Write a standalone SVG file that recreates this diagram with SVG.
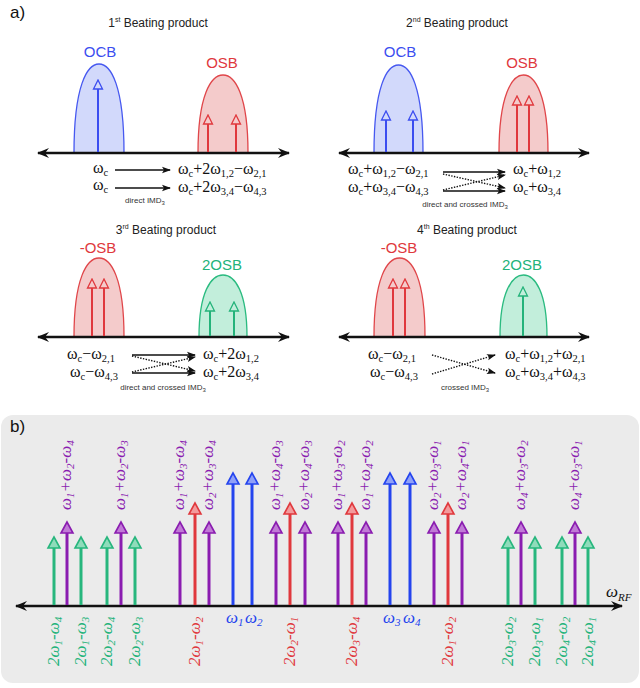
<svg xmlns="http://www.w3.org/2000/svg" width="640" height="688" viewBox="0 0 640 688">
<style>
.ttl{font-family:"Liberation Sans",Arial,sans-serif;font-size:12px;fill:#222}
.sup{font-size:7px}
.big{font-family:"Liberation Sans",Arial,sans-serif;font-size:15px;text-anchor:middle}
.pl{font-family:"Liberation Sans",Arial,sans-serif;font-size:17px;fill:#111}
.fm{font-family:"Liberation Serif","Times New Roman",serif;font-size:16px;fill:#111}
.fs{font-size:10.5px}
.sm{font-family:"Liberation Sans",Arial,sans-serif;font-size:8px;fill:#333;text-anchor:middle}
.lab{font-family:"Liberation Serif","Times New Roman",serif;font-style:italic;font-size:17px}
.ls{font-size:11px}
.ax{stroke:#111;stroke-width:2.5;fill:none}
.imd{stroke:#111;stroke-width:1.4;fill:none}
.dot{stroke:#111;stroke-width:1.4;stroke-dasharray:1.4 1.4;fill:none}
.bl{stroke:#3b4df0;stroke-width:2}
.rd{stroke:#e0383d;stroke-width:2}
.gr{stroke:#23b37a;stroke-width:2}
.Bb{stroke:#2444ee;stroke-width:3}
.Br{stroke:#e0383d;stroke-width:3}
.Bg{stroke:#27b67d;stroke-width:3}
.Bp{stroke:#8a1cb0;stroke-width:3}
.lobeB{fill:#d2d9fb;stroke:#4658f0;stroke-width:1.3}
.lobeR{fill:#f4cbcb;stroke:#e0464a;stroke-width:1.3}
.lobeG{fill:#c2eedb;stroke:#2bbb80;stroke-width:1.3}
.cB{fill:#3b4df0}.cR{fill:#e0383d}.cG{fill:#23b37a}.cP{fill:#8a1cb0}
</style>
<defs>
<marker id="mB" markerUnits="userSpaceOnUse" viewBox="-6 -6 12 12" markerWidth="12" markerHeight="12" refX="0" refY="0" orient="auto"><path d="M5,0 L-4,-4.5 L-4,4.5 Z" fill="#d2d9fb" stroke="#3b4df0" stroke-width="1.3"/></marker>
<marker id="mR" markerUnits="userSpaceOnUse" viewBox="-6 -6 12 12" markerWidth="12" markerHeight="12" refX="0" refY="0" orient="auto"><path d="M5,0 L-4,-4.5 L-4,4.5 Z" fill="#f4cbcb" stroke="#e0383d" stroke-width="1.3"/></marker>
<marker id="mG" markerUnits="userSpaceOnUse" viewBox="-6 -6 12 12" markerWidth="12" markerHeight="12" refX="0" refY="0" orient="auto"><path d="M5,0 L-4,-4.5 L-4,4.5 Z" fill="#c2eedb" stroke="#23b37a" stroke-width="1.3"/></marker>
<marker id="bB" markerUnits="userSpaceOnUse" viewBox="-7 -8 16 16" markerWidth="16" markerHeight="16" refX="0" refY="0" orient="auto"><path d="M7,0 L-4,-6 L-4,6 Z" fill="#8fa0f8" stroke="#2444ee" stroke-width="1.6"/></marker>
<marker id="bR" markerUnits="userSpaceOnUse" viewBox="-7 -8 16 16" markerWidth="16" markerHeight="16" refX="0" refY="0" orient="auto"><path d="M7,0 L-4,-6 L-4,6 Z" fill="#f39a9c" stroke="#e0383d" stroke-width="1.6"/></marker>
<marker id="bG" markerUnits="userSpaceOnUse" viewBox="-7 -8 16 16" markerWidth="16" markerHeight="16" refX="0" refY="0" orient="auto"><path d="M7,0 L-4,-6 L-4,6 Z" fill="#8fdcbb" stroke="#27b67d" stroke-width="1.6"/></marker>
<marker id="bP" markerUnits="userSpaceOnUse" viewBox="-7 -8 16 16" markerWidth="16" markerHeight="16" refX="0" refY="0" orient="auto"><path d="M7,0 L-4,-6 L-4,6 Z" fill="#c07ad6" stroke="#8a1cb0" stroke-width="1.6"/></marker>
<marker id="axe" markerUnits="userSpaceOnUse" viewBox="-12 -6 13 12" markerWidth="13" markerHeight="12" refX="0" refY="0" orient="auto-start-reverse"><path d="M1,0 L-11,-5 L-7,0 L-11,5 Z" fill="#111"/></marker>
<marker id="ia" markerUnits="userSpaceOnUse" viewBox="-9 -4 10 8" markerWidth="10" markerHeight="8" refX="0" refY="0" orient="auto"><path d="M1,0 L-8,-3.2 L-6,0 L-8,3.2 Z" fill="#111"/></marker>
</defs>

<rect width="640" height="688" fill="#fff"/>

<text x="10" y="18" class="pl">a)</text>

<g id="p1">
<text x="158" y="27" class="ttl" text-anchor="middle">1<tspan class="sup" dy="-5">st</tspan><tspan dy="5"> Beating product</tspan></text>
<text x="100" y="57" class="big cB">OCB</text>
<text x="222" y="68" class="big cR">OSB</text>
<path class="lobeB" d="M74,153 C74,86 87,64 99,64 C111,64 124,86 124,153 Z"/>
<path class="lobeR" d="M198,153 C198,95 211,75 223,75 C235,75 248,95 248,153 Z"/>
<line class="ax" x1="38" y1="153" x2="289" y2="153" marker-start="url(#axe)" marker-end="url(#axe)"/>
<line class="bl" x1="98" y1="152" x2="98" y2="85" marker-end="url(#mB)"/>
<line class="rd" x1="208" y1="152" x2="208" y2="120" marker-end="url(#mR)"/>
<line class="rd" x1="236" y1="152" x2="236" y2="120" marker-end="url(#mR)"/>
<text x="93" y="173" class="fm">ω<tspan class="fs" dy="2.5">c</tspan></text>
<text x="93" y="190" class="fm">ω<tspan class="fs" dy="2.5">c</tspan></text>
<text x="178" y="174" class="fm">ω<tspan class="fs" dy="2.5">c</tspan><tspan dy="-2.5">+2ω</tspan><tspan class="fs" dy="2.5">1,2</tspan><tspan dy="-2.5">−ω</tspan><tspan class="fs" dy="2.5">2,1</tspan></text>
<text x="178" y="192" class="fm">ω<tspan class="fs" dy="2.5">c</tspan><tspan dy="-2.5">+2ω</tspan><tspan class="fs" dy="2.5">3,4</tspan><tspan dy="-2.5">−ω</tspan><tspan class="fs" dy="2.5">4,3</tspan></text>
<text x="145" y="203" class="sm">direct IMD<tspan font-size="6" dy="2">3</tspan></text>
</g>

<g id="p2">
<text x="457" y="27" class="ttl" text-anchor="middle">2<tspan class="sup" dy="-5">nd</tspan><tspan dy="5"> Beating product</tspan></text>
<text x="400" y="57" class="big cB">OCB</text>
<text x="522" y="68" class="big cR">OSB</text>
<path class="lobeB" d="M374,153 C374,86 387,65 398.5,65 C410,65 423,86 423,153 Z"/>
<path class="lobeR" d="M499,153 C499,95 512,75 523.5,75 C535,75 548,95 548,153 Z"/>
<line class="ax" x1="339" y1="153" x2="589" y2="153" marker-start="url(#axe)" marker-end="url(#axe)"/>
<line class="bl" x1="386" y1="152" x2="386" y2="116" marker-end="url(#mB)"/>
<line class="bl" x1="413" y1="152" x2="413" y2="116" marker-end="url(#mB)"/>
<line class="rd" x1="517" y1="152" x2="517" y2="101" marker-end="url(#mR)"/>
<line class="rd" x1="529" y1="152" x2="529" y2="101" marker-end="url(#mR)"/>
<text x="348" y="174" class="fm">ω<tspan class="fs" dy="2.5">c</tspan><tspan dy="-2.5">+ω</tspan><tspan class="fs" dy="2.5">1,2</tspan><tspan dy="-2.5">−ω</tspan><tspan class="fs" dy="2.5">2,1</tspan></text>
<text x="348" y="192" class="fm">ω<tspan class="fs" dy="2.5">c</tspan><tspan dy="-2.5">+ω</tspan><tspan class="fs" dy="2.5">3,4</tspan><tspan dy="-2.5">−ω</tspan><tspan class="fs" dy="2.5">4,3</tspan></text>
<text x="513" y="174" class="fm">ω<tspan class="fs" dy="2.5">c</tspan><tspan dy="-2.5">+ω</tspan><tspan class="fs" dy="2.5">1,2</tspan></text>
<text x="513" y="192" class="fm">ω<tspan class="fs" dy="2.5">c</tspan><tspan dy="-2.5">+ω</tspan><tspan class="fs" dy="2.5">3,4</tspan></text>
<text x="465" y="207" class="sm">direct and crossed IMD<tspan font-size="6" dy="2">3</tspan></text>
</g>

<g id="p3">
<text x="166" y="234" class="ttl" text-anchor="middle">3<tspan class="sup" dy="-5">rd</tspan><tspan dy="5"> Beating product</tspan></text>
<text x="98" y="253" class="big cR">-OSB</text>
<text x="222" y="270" class="big cG">2OSB</text>
<path class="lobeR" d="M74,337 C74,278 87,258 99,258 C111,258 124,278 124,337 Z"/>
<path class="lobeG" d="M199,337 C199,292 211,275 223,275 C235,275 247,292 247,337 Z"/>
<line class="ax" x1="38" y1="337" x2="289" y2="337" marker-start="url(#axe)" marker-end="url(#axe)"/>
<line class="rd" x1="92" y1="336" x2="92" y2="284" marker-end="url(#mR)"/>
<line class="rd" x1="104" y1="336" x2="104" y2="284" marker-end="url(#mR)"/>
<line class="gr" x1="210" y1="336" x2="210" y2="307" marker-end="url(#mG)"/>
<line class="gr" x1="234" y1="336" x2="234" y2="307" marker-end="url(#mG)"/>
<text x="67" y="359" class="fm">ω<tspan class="fs" dy="2.5">c</tspan><tspan dy="-2.5">−ω</tspan><tspan class="fs" dy="2.5">2,1</tspan></text>
<text x="70" y="377" class="fm">ω<tspan class="fs" dy="2.5">c</tspan><tspan dy="-2.5">−ω</tspan><tspan class="fs" dy="2.5">4,3</tspan></text>
<text x="203" y="359" class="fm">ω<tspan class="fs" dy="2.5">c</tspan><tspan dy="-2.5">+2ω</tspan><tspan class="fs" dy="2.5">1,2</tspan></text>
<text x="203" y="377" class="fm">ω<tspan class="fs" dy="2.5">c</tspan><tspan dy="-2.5">+2ω</tspan><tspan class="fs" dy="2.5">3,4</tspan></text>
<text x="163" y="390" class="sm">direct and crossed IMD<tspan font-size="6" dy="2">3</tspan></text>
</g>

<g id="p4">
<text x="467" y="234" class="ttl" text-anchor="middle">4<tspan class="sup" dy="-5">th</tspan><tspan dy="5"> Beating product</tspan></text>
<text x="399" y="253" class="big cR">-OSB</text>
<text x="522" y="270" class="big cG">2OSB</text>
<path class="lobeR" d="M374,337 C374,278 387,258 399.5,258 C412,258 425,278 425,337 Z"/>
<path class="lobeG" d="M500,337 C500,292 512,275 523.5,275 C535,275 547,292 547,337 Z"/>
<line class="ax" x1="339" y1="337" x2="589" y2="337" marker-start="url(#axe)" marker-end="url(#axe)"/>
<line class="rd" x1="393" y1="336" x2="393" y2="284" marker-end="url(#mR)"/>
<line class="rd" x1="405" y1="336" x2="405" y2="284" marker-end="url(#mR)"/>
<line class="gr" x1="523" y1="336" x2="523" y2="292" marker-end="url(#mG)"/>
<text x="368" y="359" class="fm">ω<tspan class="fs" dy="2.5">c</tspan><tspan dy="-2.5">−ω</tspan><tspan class="fs" dy="2.5">2,1</tspan></text>
<text x="370" y="377" class="fm">ω<tspan class="fs" dy="2.5">c</tspan><tspan dy="-2.5">−ω</tspan><tspan class="fs" dy="2.5">4,3</tspan></text>
<text x="505" y="359" class="fm">ω<tspan class="fs" dy="2.5">c</tspan><tspan dy="-2.5">+ω</tspan><tspan class="fs" dy="2.5">1,2</tspan><tspan dy="-2.5">+ω</tspan><tspan class="fs" dy="2.5">2,1</tspan></text>
<text x="505" y="377" class="fm">ω<tspan class="fs" dy="2.5">c</tspan><tspan dy="-2.5">+ω</tspan><tspan class="fs" dy="2.5">3,4</tspan><tspan dy="-2.5">+ω</tspan><tspan class="fs" dy="2.5">4,3</tspan></text>
<text x="465" y="390" class="sm">crossed IMD<tspan font-size="6" dy="2">3</tspan></text>
</g>

<g id="connectors">
<line class="imd" x1="115" y1="170" x2="170" y2="170" marker-end="url(#ia)"/>
<line class="imd" x1="115" y1="188" x2="170" y2="188" marker-end="url(#ia)"/>
<line class="imd" x1="443" y1="172" x2="505" y2="172" marker-end="url(#ia)"/>
<line class="imd" x1="443" y1="191" x2="505" y2="191" marker-end="url(#ia)"/>
<line class="dot" x1="443" y1="174" x2="505" y2="188" marker-end="url(#ia)"/>
<line class="dot" x1="443" y1="190" x2="505" y2="175" marker-end="url(#ia)"/>
<line class="imd" x1="132" y1="355" x2="195" y2="355" marker-end="url(#ia)"/>
<line class="imd" x1="132" y1="373" x2="195" y2="373" marker-end="url(#ia)"/>
<line class="dot" x1="132" y1="356" x2="195" y2="371" marker-end="url(#ia)"/>
<line class="dot" x1="132" y1="372" x2="195" y2="357" marker-end="url(#ia)"/>
<line class="dot" x1="432" y1="355" x2="495" y2="373" marker-end="url(#ia)"/>
<line class="dot" x1="432" y1="374" x2="495" y2="355" marker-end="url(#ia)"/>
</g>

<g id="panelb">
<rect x="1" y="415" width="638" height="268" rx="12" fill="#ebebeb"/>
<text x="10" y="432" class="pl">b)</text>
<line class="ax" x1="16" y1="606" x2="622" y2="606" marker-start="url(#axe)" marker-end="url(#axe)"/>
<text x="606" y="597" class="lab" fill="#111">ω<tspan class="ls" dy="4">RF</tspan></text>
</g>

<g id="arrows-b">
<g class="Bg">
<line x1="54" y1="605" x2="54" y2="544" marker-end="url(#bG)"/>
<line x1="81" y1="605" x2="81" y2="544" marker-end="url(#bG)"/>
<line x1="107" y1="605" x2="107" y2="544" marker-end="url(#bG)"/>
<line x1="135" y1="605" x2="135" y2="544" marker-end="url(#bG)"/>
<line x1="508" y1="605" x2="508" y2="544" marker-end="url(#bG)"/>
<line x1="535" y1="605" x2="535" y2="544" marker-end="url(#bG)"/>
<line x1="562" y1="605" x2="562" y2="544" marker-end="url(#bG)"/>
<line x1="588" y1="605" x2="588" y2="544" marker-end="url(#bG)"/>
</g>
<g class="Bp">
<line x1="67" y1="605" x2="67" y2="529" marker-end="url(#bP)"/>
<line x1="121" y1="605" x2="121" y2="529" marker-end="url(#bP)"/>
<line x1="180" y1="605" x2="180" y2="529" marker-end="url(#bP)"/>
<line x1="209" y1="605" x2="209" y2="529" marker-end="url(#bP)"/>
<line x1="276" y1="605" x2="276" y2="529" marker-end="url(#bP)"/>
<line x1="305" y1="605" x2="305" y2="529" marker-end="url(#bP)"/>
<line x1="338" y1="605" x2="338" y2="529" marker-end="url(#bP)"/>
<line x1="366" y1="605" x2="366" y2="529" marker-end="url(#bP)"/>
<line x1="434" y1="605" x2="434" y2="529" marker-end="url(#bP)"/>
<line x1="462" y1="605" x2="462" y2="529" marker-end="url(#bP)"/>
<line x1="521" y1="605" x2="521" y2="529" marker-end="url(#bP)"/>
<line x1="575" y1="605" x2="575" y2="529" marker-end="url(#bP)"/>
</g>
<g class="Br">
<line x1="195" y1="605" x2="195" y2="510" marker-end="url(#bR)"/>
<line x1="290" y1="605" x2="290" y2="510" marker-end="url(#bR)"/>
<line x1="352" y1="605" x2="352" y2="510" marker-end="url(#bR)"/>
<line x1="448" y1="605" x2="448" y2="510" marker-end="url(#bR)"/>
</g>
<g class="Bb">
<line x1="233" y1="605" x2="233" y2="480" marker-end="url(#bB)"/>
<line x1="252" y1="605" x2="252" y2="480" marker-end="url(#bB)"/>
<line x1="390" y1="605" x2="390" y2="480" marker-end="url(#bB)"/>
<line x1="410" y1="605" x2="410" y2="480" marker-end="url(#bB)"/>
</g>
</g>

<g id="labels-top" class="lab cP">
<text transform="translate(71,510) rotate(-90)">ω<tspan class="ls" dy="3">1</tspan><tspan dy="-3">+ω</tspan><tspan class="ls" dy="3">2</tspan><tspan dy="-3">-ω</tspan><tspan class="ls" dy="3">4</tspan></text>
<text transform="translate(125,510) rotate(-90)">ω<tspan class="ls" dy="3">1</tspan><tspan dy="-3">+ω</tspan><tspan class="ls" dy="3">2</tspan><tspan dy="-3">-ω</tspan><tspan class="ls" dy="3">3</tspan></text>
<text transform="translate(184,510) rotate(-90)">ω<tspan class="ls" dy="3">1</tspan><tspan dy="-3">+ω</tspan><tspan class="ls" dy="3">3</tspan><tspan dy="-3">-ω</tspan><tspan class="ls" dy="3">4</tspan></text>
<text transform="translate(213,510) rotate(-90)">ω<tspan class="ls" dy="3">2</tspan><tspan dy="-3">+ω</tspan><tspan class="ls" dy="3">3</tspan><tspan dy="-3">-ω</tspan><tspan class="ls" dy="3">4</tspan></text>
<text transform="translate(280,510) rotate(-90)">ω<tspan class="ls" dy="3">1</tspan><tspan dy="-3">+ω</tspan><tspan class="ls" dy="3">4</tspan><tspan dy="-3">-ω</tspan><tspan class="ls" dy="3">3</tspan></text>
<text transform="translate(309,510) rotate(-90)">ω<tspan class="ls" dy="3">2</tspan><tspan dy="-3">+ω</tspan><tspan class="ls" dy="3">4</tspan><tspan dy="-3">-ω</tspan><tspan class="ls" dy="3">3</tspan></text>
<text transform="translate(342,510) rotate(-90)">ω<tspan class="ls" dy="3">1</tspan><tspan dy="-3">+ω</tspan><tspan class="ls" dy="3">3</tspan><tspan dy="-3">-ω</tspan><tspan class="ls" dy="3">2</tspan></text>
<text transform="translate(370,510) rotate(-90)">ω<tspan class="ls" dy="3">1</tspan><tspan dy="-3">+ω</tspan><tspan class="ls" dy="3">4</tspan><tspan dy="-3">-ω</tspan><tspan class="ls" dy="3">2</tspan></text>
<text transform="translate(438,510) rotate(-90)">ω<tspan class="ls" dy="3">2</tspan><tspan dy="-3">+ω</tspan><tspan class="ls" dy="3">3</tspan><tspan dy="-3">-ω</tspan><tspan class="ls" dy="3">1</tspan></text>
<text transform="translate(466,510) rotate(-90)">ω<tspan class="ls" dy="3">2</tspan><tspan dy="-3">+ω</tspan><tspan class="ls" dy="3">4</tspan><tspan dy="-3">-ω</tspan><tspan class="ls" dy="3">1</tspan></text>
<text transform="translate(525,510) rotate(-90)">ω<tspan class="ls" dy="3">4</tspan><tspan dy="-3">+ω</tspan><tspan class="ls" dy="3">3</tspan><tspan dy="-3">-ω</tspan><tspan class="ls" dy="3">2</tspan></text>
<text transform="translate(579,510) rotate(-90)">ω<tspan class="ls" dy="3">4</tspan><tspan dy="-3">+ω</tspan><tspan class="ls" dy="3">3</tspan><tspan dy="-3">-ω</tspan><tspan class="ls" dy="3">1</tspan></text>
</g>

<g id="labels-bottom" class="lab">
<text class="cG" transform="translate(59,666) rotate(-90)">2ω<tspan class="ls" dy="3">1</tspan><tspan dy="-3">-ω</tspan><tspan class="ls" dy="3">4</tspan></text>
<text class="cG" transform="translate(86,666) rotate(-90)">2ω<tspan class="ls" dy="3">1</tspan><tspan dy="-3">-ω</tspan><tspan class="ls" dy="3">3</tspan></text>
<text class="cG" transform="translate(112,666) rotate(-90)">2ω<tspan class="ls" dy="3">2</tspan><tspan dy="-3">-ω</tspan><tspan class="ls" dy="3">4</tspan></text>
<text class="cG" transform="translate(140,666) rotate(-90)">2ω<tspan class="ls" dy="3">2</tspan><tspan dy="-3">-ω</tspan><tspan class="ls" dy="3">3</tspan></text>
<text class="cR" transform="translate(200,666) rotate(-90)">2ω<tspan class="ls" dy="3">1</tspan><tspan dy="-3">-ω</tspan><tspan class="ls" dy="3">2</tspan></text>
<text class="cR" transform="translate(295,666) rotate(-90)">2ω<tspan class="ls" dy="3">2</tspan><tspan dy="-3">-ω</tspan><tspan class="ls" dy="3">1</tspan></text>
<text class="cR" transform="translate(357,666) rotate(-90)">2ω<tspan class="ls" dy="3">3</tspan><tspan dy="-3">-ω</tspan><tspan class="ls" dy="3">4</tspan></text>
<text class="cR" transform="translate(453,666) rotate(-90)">2ω<tspan class="ls" dy="3">1</tspan><tspan dy="-3">-ω</tspan><tspan class="ls" dy="3">2</tspan></text>
<text class="cG" transform="translate(513,666) rotate(-90)">2ω<tspan class="ls" dy="3">3</tspan><tspan dy="-3">-ω</tspan><tspan class="ls" dy="3">2</tspan></text>
<text class="cG" transform="translate(540,666) rotate(-90)">2ω<tspan class="ls" dy="3">3</tspan><tspan dy="-3">-ω</tspan><tspan class="ls" dy="3">1</tspan></text>
<text class="cG" transform="translate(567,666) rotate(-90)">2ω<tspan class="ls" dy="3">4</tspan><tspan dy="-3">-ω</tspan><tspan class="ls" dy="3">2</tspan></text>
<text class="cG" transform="translate(593,666) rotate(-90)">2ω<tspan class="ls" dy="3">4</tspan><tspan dy="-3">-ω</tspan><tspan class="ls" dy="3">1</tspan></text>
<text fill="#2444ee" x="226" y="623">ω<tspan class="ls" dy="3">1</tspan></text>
<text fill="#2444ee" x="245" y="623">ω<tspan class="ls" dy="3">2</tspan></text>
<text fill="#2444ee" x="383" y="623">ω<tspan class="ls" dy="3">3</tspan></text>
<text fill="#2444ee" x="403" y="623">ω<tspan class="ls" dy="3">4</tspan></text>
</g>
</svg>
